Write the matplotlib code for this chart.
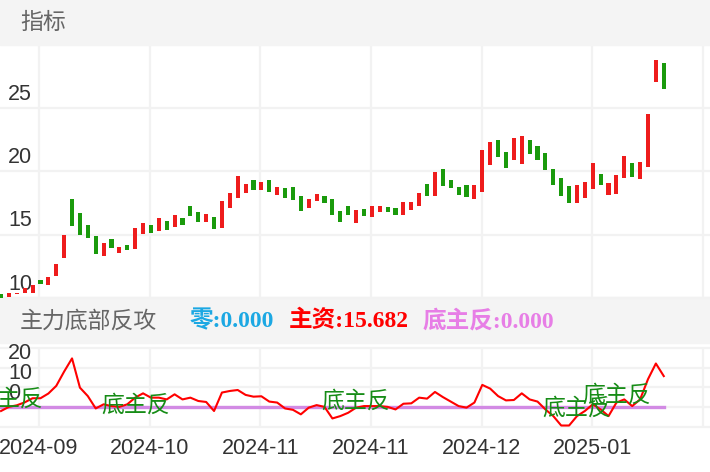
import matplotlib
matplotlib.use('Agg')
import matplotlib.pyplot as plt
from matplotlib.patches import Rectangle
import numpy as np

# candle bodies: open / close
opens = [10.29, 10.11, 10.29, 10.37, 10.42, 11.42, 11.00, 11.76, 13.13, 17.79,
         16.68, 15.74, 14.89, 13.34, 14.63, 13.58, 14.21, 13.84, 15.03, 15.74,
         15.29, 16.08, 15.63, 16.34, 17.26, 16.76, 15.97, 16.39, 15.50, 17.08,
         17.87, 18.32, 19.32, 18.53, 19.29, 18.16, 18.68, 18.74, 18.05, 17.13,
         17.68, 18.08, 17.82, 16.84, 17.26, 15.95, 17.00, 16.39, 16.79, 17.18,
         17.11, 16.58, 16.92, 17.29, 19.00, 18.08, 20.18, 19.32, 18.76, 18.89,
         17.79, 18.39, 20.50, 22.50, 21.55, 20.89, 20.61, 22.50, 21.97, 21.45,
         20.18, 19.47, 18.84, 17.53, 17.92, 18.61, 19.79, 18.13, 18.21, 19.47,
         20.63, 19.42, 20.34, 27.03, 28.53]
closes = [9.97, 10.42, 10.42, 10.82, 11.03, 11.08, 11.66, 12.71, 14.95, 15.68,
          14.97, 14.71, 13.47, 14.37, 13.97, 14.05, 13.79, 15.50, 15.92, 15.11,
          16.29, 15.34, 16.58, 15.79, 16.45, 15.97, 16.63, 15.45, 17.66, 18.32,
          19.66, 18.97, 18.53, 19.18, 18.39, 18.79, 17.92, 17.71, 16.87, 17.84,
          18.18, 17.53, 16.55, 16.03, 16.55, 16.92, 16.50, 17.26, 17.26, 16.79,
          16.55, 17.61, 17.55, 18.29, 18.08, 19.95, 18.87, 18.71, 18.13, 18.00,
          18.95, 21.71, 22.29, 21.13, 20.24, 22.63, 22.79, 21.39, 20.89, 20.11,
          18.95, 18.08, 17.50, 18.89, 19.16, 20.66, 18.92, 19.08, 19.71, 21.21,
          19.58, 20.76, 24.55, 28.79, 26.50]

# 主资 line
zhuzi = [-2.1, 0.0, 0.8, 2.3, 4.4, 4.4, 6.8, 10.7, 18.0, 24.7,
         9.8, 5.5, -0.8, 1.3, 0.4, 0.0, 1.3, 4.7, 6.9, 4.7,
         4.7, 3.8, 6.4, 3.8, 4.7, 3.0, 2.5, -2.1, 7.3, 8.1,
         8.6, 6.1, 5.2, 5.4, 2.7, 2.2, -0.8, -1.5, -3.8, -0.4,
         0.9, 0.0, -5.9, -4.7, -3.0, -0.4, 0.4, 0.4, 0.4, 0.0,
         -1.3, 1.6, 1.8, 4.7, 4.2, 7.6, 5.0, 2.7, 0.4, -0.4,
         2.2, 11.2, 9.3, 5.5, 3.3, 3.5, 6.9, 3.8, 2.7, -1.3,
         -4.7, -9.5, -9.5, -4.7, -2.1, 1.3, -1.3, -4.7, 2.2, 3.8,
         0.4, 3.8, 14.1, 22.1, 15.682]

# 底主反 signals
signal_idx = [1, 17, 45, 73, 78]
signal_val = [3.8, 0.8, 2.8, -0.8, 5.9]

date_labels = ['2024-09', '2024-10', '2024-11', '2024-11', '2024-12', '2025-01']
main_ticks = [10, 15, 20, 25]
sub_ticks = [0, 10, 20]
sub_grid = [-10, 0, 10, 20, 30]

W, H = 710, 472
RED = '#ee1c1c'
GREEN = '#1a9a0c'
GRID = '#f2f2f2'
BAND = '#f4f4f4'
CJK = ['Noto Sans CJK SC', 'DejaVu Sans']
NUM = ['Liberation Sans', 'DejaVu Sans']

fig = plt.figure(figsize=(W / 100, H / 100), dpi=100)

def band(y0, y1):
    fig.add_artist(Rectangle((0, 1 - y1 / H), 1, (y1 - y0) / H,
                             transform=fig.transFigure, color=BAND, zorder=0))

band(0, 45)
band(297, 343)

fig.text(20 / W, 1 - 22 / H, '指标', family=CJK, fontsize=16.5, color='#666666', va='center')
fig.text(20 / W, 1 - 321 / H, '主力底部反攻', family=CJK, fontsize=16.5, color='#666666', va='center')
head = [('零:0.000', '#1ca8e3', 190), ('主资:15.682', '#ff0000', 289), ('底主反:0.000', '#e77ee6', 423)]
for s, c, x in head:
    fig.text(x / W, 1 - 321 / H, s, family=['Liberation Serif', 'Noto Sans CJK SC'],
             fontsize=17, fontweight='bold', color=c, va='center')

x = np.arange(len(opens))
xlim = (-0.13, 89.86)
grid_x = 4.8 + 14.03 * np.arange(7)

ax = fig.add_axes([0, 1 - 298 / H, 1, (298 - 46) / H])
ax.set_axis_off()
ax.set_xlim(xlim)
ax.set_ylim(10, 29.9)
for g in grid_x:
    ax.axvline(g, color=GRID, lw=1.6, zorder=0)
for t in main_ticks:
    ax.axhline(t, color=GRID, lw=1.6, zorder=0, clip_on=False)
    ax.annotate(str(t), xy=(8 / W, t), xycoords=('axes fraction', 'data'),
                xytext=(0, 6), textcoords='offset points', ha='left', va='baseline',
                family=NUM, fontsize=15.5, color='#333333', zorder=1)

o = np.array(opens)
c = np.array(closes)
cols = [RED if cc >= oo else GREEN for oo, cc in zip(o, c)]
ax.bar(x, np.maximum(np.abs(c - o), 0.08), bottom=np.minimum(o, c), width=0.52,
       color=cols, linewidth=0, zorder=3)

sx = fig.add_axes([0, 1 - 426.5 / H, 1, (426.5 - 348) / H])
sx.set_axis_off()
sx.set_xlim(xlim)
sx.set_ylim(-10, 30)
for g in grid_x:
    sx.axvline(g, color=GRID, lw=1.6, zorder=0)
for t in sub_grid:
    sx.axhline(t, color=GRID, lw=1.6, zorder=0, clip_on=False)
for t in sub_ticks:
    sx.annotate(str(t), xy=(8 / W, t), xycoords=('axes fraction', 'data'),
                xytext=(0, 6), textcoords='offset points', ha='left', va='baseline',
                family=NUM, fontsize=15.5, color='#333333', zorder=1, annotation_clip=False)

sx.plot(x, np.zeros(len(x)), color='#1ca8e3', lw=2, zorder=2)
sx.plot(x, np.zeros(len(x)), color='#d28ae4', lw=2.4, zorder=3)
sx.plot(x, zhuzi, color='#ff0000', lw=1.5, zorder=4)
for i, v in zip(signal_idx, signal_val):
    sx.text(i, v, '底主反', family=CJK, fontsize=16.5, color='#168c16',
            ha='center', va='center', zorder=5, clip_on=False)

for g, lab in zip(grid_x, date_labels):
    sx.text(g, (426.5 - 449) / 78.5, lab, transform=sx.get_xaxis_transform(),
            ha='center', va='center', family=NUM, fontsize=15.5, color='#333333')

fig.savefig('out.png', dpi=100)
